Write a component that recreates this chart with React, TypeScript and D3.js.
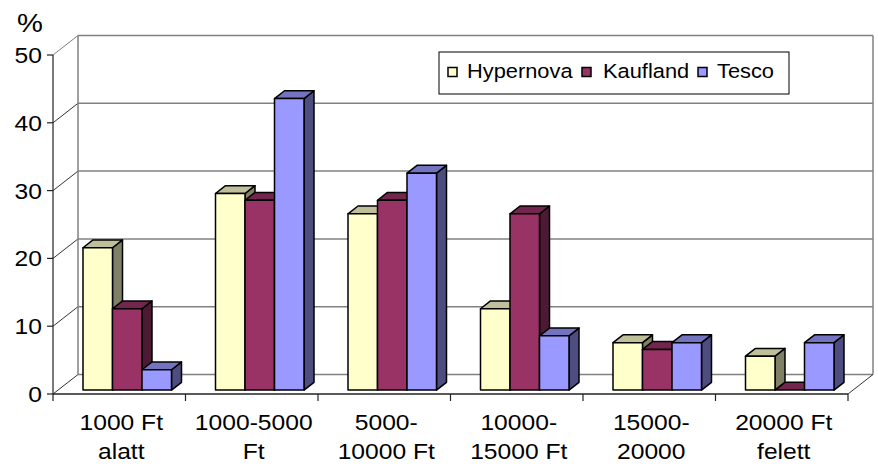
import React from "react";
import * as d3 from "d3";

// Spending bands (two-line axis labels)
const categories = ["1000 Ft alatt", "1000-5000 Ft", "5000-10000 Ft", "10000-15000 Ft", "15000-20000", "20000 Ft felett"];
const categoryLines = [
  ["1000 Ft", "alatt"],
  ["1000-5000", "Ft"],
  ["5000-", "10000 Ft"],
  ["10000-", "15000 Ft"],
  ["15000-", "20000"],
  ["20000 Ft", "felett"],
];

const seriesNames = ["Hypernova", "Kaufland", "Tesco"];
const hypernova = [21, 29, 26, 12, 7, 5];
const kaufland = [12, 28, 28, 26, 6, 0];
const tesco = [3, 43, 32, 8, 7, 7];
const yTicks = [0, 10, 20, 30, 40, 50];

const seriesValues = [hypernova, kaufland, tesco];
const faceColors = [
  { front: "#FFFFCC", top: "#BFBF99", side: "#808066" },
  { front: "#993366", top: "#73264D", side: "#4D1A33" },
  { front: "#9999FF", top: "#7373BF", side: "#4D4D80" },
];

const W = 878;
const H = 467;
const FONT = "'Liberation Sans', Arial, Helvetica, sans-serif";
const SX = 1.12; // horizontal stretch of the text

// oblique depth of the floor / walls
const DX = 25;
const DY = -19.5;
// bars occupy depth 0.2 .. 0.6
const BAR_Z0 = 0.2;
const BAR_DEPTH = 0.4;

export default function App() {
  const y = d3.scaleLinear().domain([0, 50]).range([394, 55]);
  const x = d3.scaleBand<string>().domain(categories).range([53, 848]).padding(0);
  const xs = d3.scaleBand<string>().domain(seriesNames).range([25, 113.5]).padding(0);

  const left = x.range()[0];
  const right = x.range()[1];
  const pt = (px: number, py: number) => `${px},${py}`;

  const bars: React.ReactNode[] = [];
  categories.forEach((c, ci) => {
    seriesNames.forEach((s, si) => {
      const v = seriesValues[si][ci];
      const x0 = (x(c) as number) + (xs(s) as number) + BAR_Z0 * DX;
      const x1 = x0 + xs.bandwidth();
      const yb = y(0) + BAR_Z0 * DY;
      const yt = y(v) + BAR_Z0 * DY;
      const ddx = BAR_DEPTH * DX;
      const ddy = BAR_DEPTH * DY;
      const col = faceColors[si];
      bars.push(
        <g key={`${ci}-${si}`} stroke="#000" strokeWidth={1.5} strokeLinejoin="round">
          <polygon
            points={[pt(x1, yt), pt(x1 + ddx, yt + ddy), pt(x1 + ddx, yb + ddy), pt(x1, yb)].join(" ")}
            fill={col.side}
          />
          <polygon
            points={[pt(x0, yt), pt(x0 + ddx, yt + ddy), pt(x1 + ddx, yt + ddy), pt(x1, yt)].join(" ")}
            fill={col.top}
          />
          {yb - yt > 0.5 && <rect x={x0} y={yt} width={x1 - x0} height={yb - yt} fill={col.front} />}
        </g>
      );
    });
  });

  const legendX = 439;
  const legendY = 52;
  const legendItems = [
    { sw: 448, tx: 467 },
    { sw: 582, tx: 603 },
    { sw: 698, tx: 717 },
  ];

  return (
    <svg
      width={W}
      height={H}
      style={{ position: "absolute", left: 0, top: 0, background: "#fff" }}
      fontFamily={FONT}
    >
      <rect x={0} y={0} width={W} height={H} fill="#fff" />

      {/* back wall gridlines */}
      {yTicks.map((t) => (
        <line
          key={`g${t}`}
          x1={left + DX}
          x2={right + DX}
          y1={y(t) + DY}
          y2={y(t) + DY}
          stroke="#808080"
          strokeWidth={1.5}
        />
      ))}
      {/* side wall gridlines */}
      {yTicks.map((t) => (
        <line
          key={`s${t}`}
          x1={left}
          x2={left + DX}
          y1={y(t)}
          y2={y(t) + DY}
          stroke={t === 50 ? "#808080" : "#333"}
          strokeWidth={1}
        />
      ))}
      {/* back wall edges */}
      <line x1={left + DX} x2={left + DX} y1={y(50) + DY} y2={y(0) + DY} stroke="#808080" strokeWidth={1.5} />
      <line x1={right + DX} x2={right + DX} y1={y(50) + DY} y2={y(0) + DY} stroke="#808080" strokeWidth={1.5} />

      {/* floor edges */}
      <line x1={right} x2={right + DX} y1={y(0)} y2={y(0) + DY} stroke="#333" strokeWidth={1} />

      {/* value axis */}
      <line x1={left} x2={left} y1={y(50)} y2={y(0)} stroke="#222" strokeWidth={1.2} />
      {yTicks.map((t) => (
        <g key={`yt${t}`}>
          <line x1={left - 6} x2={left} y1={y(t)} y2={y(t)} stroke="#222" strokeWidth={1.2} />
          <text
            transform={`translate(${left - 11},${y(t) + 8}) scale(${SX},1)`}
            textAnchor="end"
            fontSize={22}
            fill="#000"
          >
            {t}
          </text>
        </g>
      ))}
      <text transform={`translate(17,32) scale(${SX},1)`} fontSize={26} fill="#000">
        %
      </text>

      {/* category axis */}
      <line x1={left} x2={right} y1={y(0)} y2={y(0)} stroke="#222" strokeWidth={1.5} />
      {[...categories.map((c) => x(c) as number), right].map((px, i) => (
        <line key={`xt${i}`} x1={px} x2={px} y1={y(0)} y2={y(0) + 7} stroke="#222" strokeWidth={1.2} />
      ))}
      {categories.map((c, ci) => {
        const cx = (x(c) as number) + x.bandwidth() / 2 + 2;
        return categoryLines[ci].map((line, li) => (
          <text
            key={`cl${ci}-${li}`}
            transform={`translate(${cx},${430 + li * 29}) scale(${SX},1)`}
            textAnchor="middle"
            fontSize={22}
            fill="#000"
          >
            {line}
          </text>
        ));
      })}

      {/* bars */}
      {bars}

      {/* legend */}
      <rect x={legendX} y={legendY} width={350} height={42} fill="#fff" stroke="#000" strokeWidth={1} />
      {seriesNames.map((s, si) => (
        <g key={`lg${s}`}>
          <rect
            x={legendItems[si].sw}
            y={67.5}
            width={9}
            height={9}
            fill={faceColors[si].front}
            stroke="#000"
            strokeWidth={1.5}
          />
          <text
            transform={`translate(${legendItems[si].tx},${78}) scale(${SX},1)`}
            fontSize={19.5}
            fill="#000"
          >
            {s}
          </text>
        </g>
      ))}
    </svg>
  );
}
